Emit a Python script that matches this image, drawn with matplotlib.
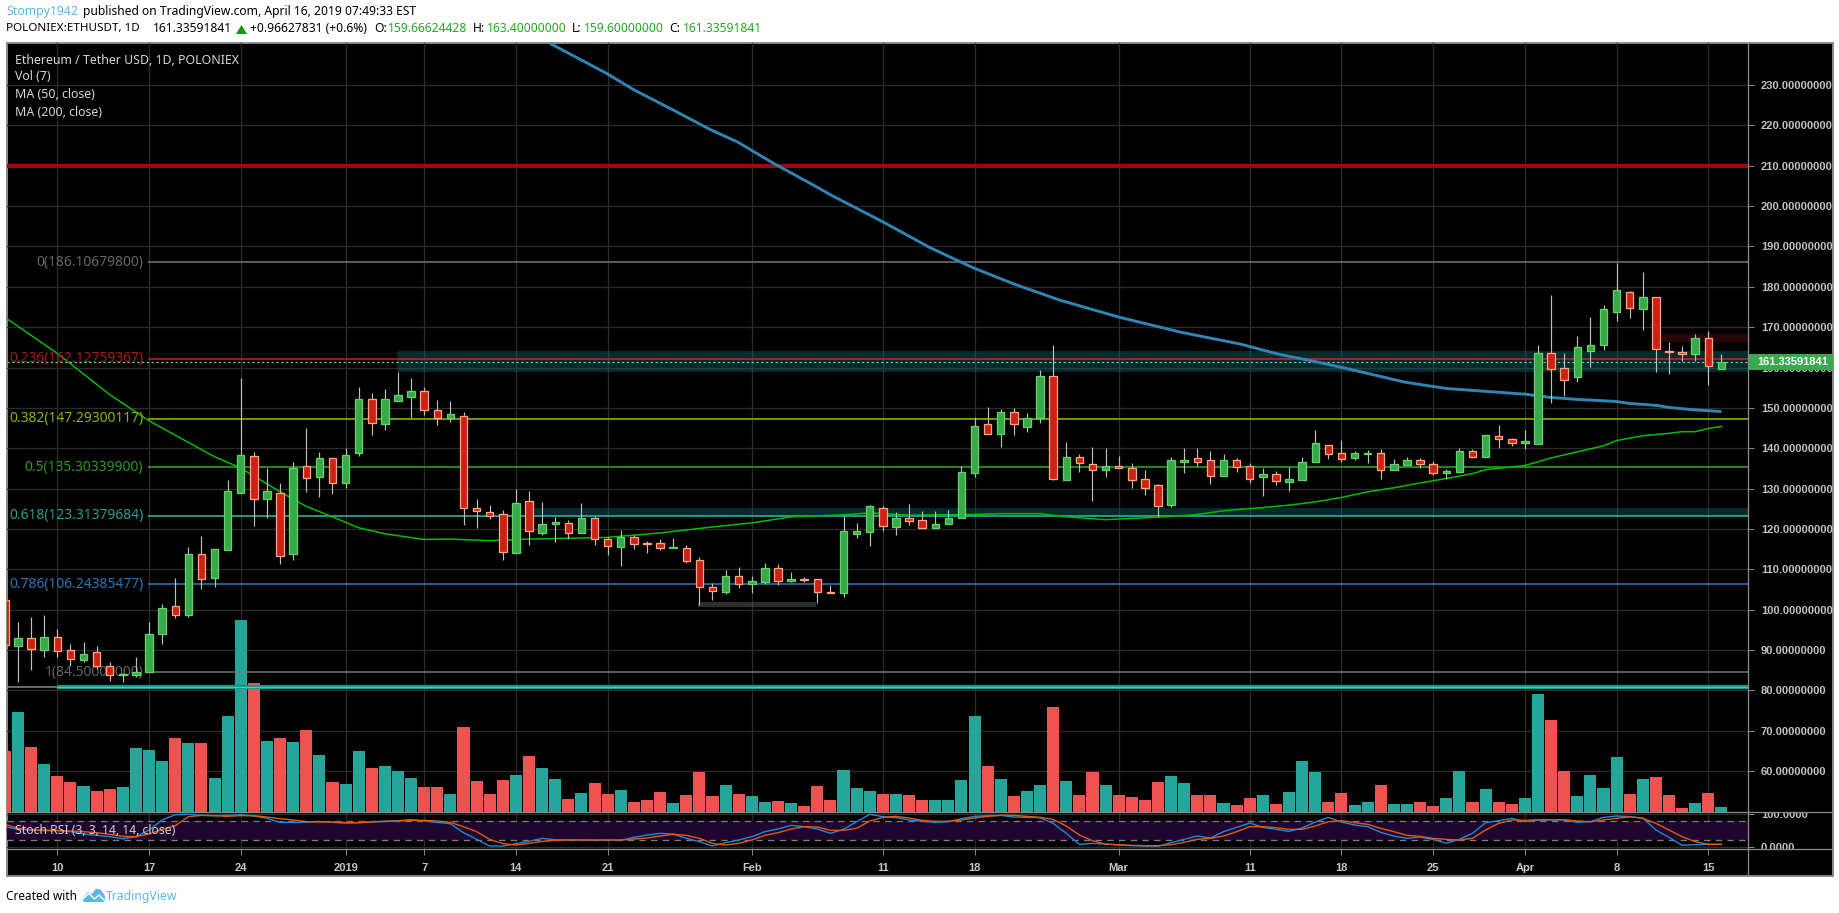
import matplotlib
matplotlib.use("Agg")
import matplotlib.pyplot as plt
import numpy as np
import pandas as pd
from matplotlib.lines import Line2D
from matplotlib.patches import Polygon, Rectangle
from matplotlib.transforms import Bbox

plt.rcParams['font.family'] = ['Noto Sans', 'DejaVu Sans']

W, H = 1840, 913

days = pd.date_range('2018-12-06', '2019-04-16')

opens = [102.5, 91.0, 93.1, 90.1, 93.3, 89.9, 87.5, 89.4, 86.1, 83.7, 83.7, 84.6, 94.1, 100.8, 98.7, 113.7, 107.9, 114.9, 129.0, 138.2,
         127.5, 129.0, 113.8, 135.7, 132.9, 137.5, 131.4, 138.9, 152.1, 146.0, 151.7, 152.7, 154.3, 149.4, 147.4, 148.1, 125.1, 124.3, 123.6, 114.1,
         127.0, 119.1, 121.3, 121.6, 119.1, 122.8, 117.4, 115.6, 118.1, 116.5, 116.4, 115.3, 115.4, 112.4, 105.5, 104.4, 108.4, 106.4, 106.9, 110.4,
         107.1, 107.5, 107.5, 104.5, 104.1, 118.8, 119.3, 125.3, 120.5, 122.6, 122.1, 120.3, 121.3, 122.7, 133.9, 145.9, 143.6, 148.9, 145.3, 147.5,
         157.8, 132.2, 137.9, 136.0, 134.6, 135.7, 135.2, 132.5, 130.8, 126.0, 136.6, 137.7, 137.0, 133.2, 137.2, 135.5, 132.9, 133.7, 131.7, 132.2,
         136.6, 140.9, 138.9, 137.6, 138.6, 138.9, 134.7, 135.9, 137.2, 136.0, 133.9, 134.2, 139.2, 137.9, 143.1, 142.2, 141.3, 141.1, 163.7, 159.8,
         157.7, 164.1, 165.6, 173.8, 178.6, 174.6, 177.4, 164.2, 163.8, 163.4, 167.4, 159.66624428]
highs = [103.0, 96.9, 98.1, 98.6, 95.1, 91.6, 91.9, 90.9, 87.0, 84.3, 88.2, 96.9, 101.3, 107.8, 115.6, 118.2, 115.1, 132.1, 157.4, 139.0,
         135.2, 131.3, 136.5, 145.0, 139.0, 137.7, 140.0, 155.1, 153.6, 154.6, 158.9, 157.4, 155.1, 151.9, 151.7, 149.1, 127.4, 125.9, 124.6, 129.8,
         129.4, 126.6, 122.9, 122.2, 126.4, 123.2, 117.9, 119.7, 118.6, 117.0, 117.5, 117.7, 116.0, 113.0, 106.5, 109.8, 110.5, 108.3, 111.5, 111.3,
         109.3, 108.1, 107.7, 106.2, 123.2, 121.4, 125.9, 125.6, 124.1, 126.1, 124.4, 124.4, 124.6, 135.5, 147.7, 150.2, 149.7, 149.9, 148.7, 159.4,
         165.5, 141.5, 138.5, 140.3, 140.0, 138.0, 136.3, 134.6, 131.1, 137.8, 140.0, 140.0, 139.3, 138.5, 137.5, 136.3, 135.2, 134.3, 135.3, 137.8,
         144.5, 140.9, 142.0, 139.3, 139.5, 139.9, 137.3, 137.9, 137.5, 136.8, 134.8, 140.0, 139.8, 143.4, 145.7, 142.5, 144.5, 165.5, 177.9, 163.6,
         167.8, 172.5, 175.5, 185.9, 178.9, 183.6, 177.4, 166.3, 165.3, 168.3, 169.0, 163.4]
lows = [90.0, 82.1, 85.0, 88.4, 88.2, 86.0, 87.0, 85.4, 82.3, 82.0, 83.3, 84.5, 91.4, 97.9, 98.2, 105.1, 105.6, 114.9, 129.0, 120.7,
        122.7, 111.3, 112.2, 129.1, 127.9, 128.6, 130.1, 138.0, 143.2, 144.5, 151.7, 147.4, 148.2, 145.7, 146.5, 120.9, 120.2, 122.4, 112.2, 114.1,
        116.0, 118.4, 116.7, 117.6, 119.1, 116.0, 113.5, 110.8, 115.0, 114.1, 114.7, 115.3, 111.6, 101.2, 102.3, 103.9, 105.4, 104.1, 106.3, 106.2,
        106.8, 106.8, 101.7, 104.1, 103.2, 117.7, 115.8, 119.5, 118.4, 121.0, 120.3, 120.3, 121.3, 122.7, 132.9, 143.6, 140.3, 143.2, 144.0, 146.2,
        132.1, 132.2, 134.1, 126.9, 132.8, 135.2, 130.1, 128.4, 123.0, 125.4, 133.8, 135.6, 131.1, 133.2, 134.1, 131.4, 128.2, 130.8, 129.4, 132.2,
        136.6, 137.3, 136.6, 137.0, 136.3, 132.4, 134.7, 135.9, 135.2, 133.3, 132.5, 134.2, 137.6, 137.9, 140.0, 140.5, 139.8, 141.1, 151.2, 152.9,
        156.4, 160.1, 164.3, 171.5, 172.2, 169.3, 158.9, 158.4, 161.6, 161.6, 155.6, 159.6]
closes = [91.2, 93.1, 90.3, 93.3, 89.8, 87.8, 89.1, 86.1, 83.8, 84.0, 84.5, 94.1, 100.3, 98.8, 113.9, 107.7, 115.1, 129.3, 138.4, 127.5,
          129.3, 113.4, 135.0, 132.7, 137.5, 131.4, 138.4, 152.1, 146.3, 152.1, 153.1, 154.3, 149.4, 147.5, 148.4, 125.3, 124.5, 123.3, 114.4, 126.5,
          119.4, 121.3, 121.8, 119.1, 122.8, 117.4, 115.9, 117.9, 116.3, 116.3, 115.3, 115.5, 112.1, 105.5, 104.6, 108.4, 106.4, 107.0, 110.4, 107.1,
          107.7, 107.3, 104.4, 104.2, 119.4, 119.6, 125.6, 120.8, 122.6, 122.0, 120.3, 121.3, 122.8, 134.0, 145.6, 143.6, 148.9, 146.0, 147.4, 158.0,
          132.4, 137.9, 136.4, 134.6, 135.5, 135.2, 132.2, 130.2, 125.7, 137.0, 137.2, 136.7, 133.2, 137.0, 135.4, 132.4, 133.7, 131.9, 132.3, 136.5,
          141.2, 138.6, 137.4, 138.7, 138.9, 134.7, 136.0, 137.2, 136.1, 133.9, 134.3, 139.2, 137.9, 143.4, 142.3, 141.4, 141.7, 163.7, 159.7, 156.9,
          165.0, 165.5, 174.4, 179.1, 174.8, 177.4, 164.5, 163.9, 163.4, 167.2, 160.4, 161.33591841]

# volume has no axis of its own, the pane is scaled to 768 units
volume = [60, 99, 64, 47, 35, 29, 25, 20, 22, 24, 63, 61, 50, 73, 68, 68, 33, 95, 191, 128,
          70, 73, 69, 81, 56, 29, 27, 60, 43, 45, 40, 33, 24, 24, 17, 84, 30, 17, 31, 36,
          55, 43, 32, 12, 18, 28, 17, 21, 9, 11, 19, 8, 16, 39, 15, 26, 17, 15, 9, 10,
          8, 5, 25, 11, 41, 23, 20, 17, 17, 16, 11, 11, 11, 31, 95, 45, 32, 15, 20, 26,
          104, 30, 16, 39, 26, 16, 14, 11, 29, 35, 28, 16, 16, 8, 6, 13, 16, 7, 19, 50,
          39, 9, 18, 6, 9, 26, 7, 7, 9, 5, 13, 40, 9, 22, 9, 7, 13, 117, 91, 40,
          15, 36, 23, 54, 17, 32, 34, 16, 3, 8, 18, 4]

stoch_k = [61.9, 53.7, 51.7, 49.6, 49.6, 46.6, 39.4, 35.4, 31.3, 25.2, 31.3, 51.7, 82.3, 98.6, 99.6, 96.5, 95.5, 96.5, 98.6, 94.5,
           87.3, 75.1, 75.1, 75.1, 78.2, 75.1, 73.1, 74.1, 77.2, 78.2, 80.2, 83.3, 79.2, 75.1, 71.0, 43.5, 23.1, 2.7, 2.7, 9.9,
           17.0, 26.2, 22.1, 21.1, 21.1, 20.0, 21.1, 20.0, 29.2, 36.4, 41.5, 39.4, 26.2, 16.0, 2.7, 12.9, 21.1, 31.3, 46.6, 54.7,
           65.9, 61.9, 54.7, 41.5, 53.7, 77.2, 99.6, 92.4, 89.4, 82.3, 78.2, 75.1, 77.2, 86.3, 93.5, 95.5, 96.5, 91.4, 90.4, 89.4,
           72.0, 41.5, 7.8, 10.9, 8.8, 5.8, 3.8, 2.7, 1.7, 12.9, 23.1, 33.3, 27.2, 46.6, 59.8, 73.1, 59.8, 53.7, 47.6, 57.8,
           76.1, 90.4, 76.1, 67.0, 61.9, 44.5, 33.3, 26.2, 30.3, 23.1, 10.9, 23.1, 41.5, 74.1, 80.2, 87.4, 77.2, 82.3, 82.3, 82.3,
           75.1, 77.2, 90.4, 94.5, 92.4, 88.4, 51.7, 29.2, 4.8, 6.8, 7.8, 7.8]
stoch_d = [69.0, 56.8, 51.7, 51.7, 50.6, 48.6, 46.6, 43.5, 38.4, 32.3, 31.3, 39.4, 53.7, 64.9, 92.4, 96.5, 95.5, 93.5, 95.5, 95.5,
           91.4, 86.3, 82.3, 77.2, 76.1, 76.1, 74.1, 74.1, 76.1, 78.2, 79.2, 81.2, 81.2, 79.2, 75.1, 61.9, 46.6, 23.1, 9.9, 5.8,
           10.9, 17.0, 20.0, 21.1, 21.1, 21.1, 21.1, 21.1, 24.1, 27.2, 33.3, 38.4, 35.4, 26.2, 10.9, 5.8, 10.9, 21.1, 35.4, 43.5,
           54.7, 61.9, 60.8, 50.6, 50.6, 56.8, 79.2, 90.4, 93.5, 88.4, 81.2, 78.2, 78.2, 82.3, 88.4, 93.5, 96.5, 96.5, 93.5, 90.4,
           84.3, 63.9, 36.4, 19.1, 8.8, 6.8, 4.8, 3.8, 3.8, 6.8, 14.0, 23.1, 26.2, 33.3, 46.6, 61.9, 61.9, 58.8, 53.7, 53.7,
           63.9, 77.2, 80.2, 74.1, 69.0, 56.8, 46.6, 35.4, 32.3, 26.2, 23.1, 21.1, 26.2, 51.7, 72.1, 82.3, 81.2, 83.3, 83.3, 83.3,
           79.2, 77.2, 82.3, 87.4, 92.4, 87.4, 72.1, 51.7, 31.3, 16.0, 7.8, 7.8]

ma50_days = [0.2, 4, 8, 11, 16, 18, 21, 23, 25, 27, 29, 32, 34, 37, 40, 43, 46, 47, 50, 54, 57, 60, 64, 66, 69, 74, 76, 79, 81, 84,
             86, 89, 91, 93, 94, 96, 98, 100, 102, 104, 106, 108, 110, 112, 113, 116, 118, 120, 122, 123, 125, 127, 128, 129, 130, 131]
ma50 = [172.0, 163.5, 153.3, 146.8, 137.9, 135.1, 129.2, 125.6, 123.0, 120.3, 118.8, 117.4, 117.5, 117.1, 117.5, 117.7, 117.9, 118.2, 119.0, 120.5,
        121.5, 123.0, 123.5, 124.0, 123.4, 123.6, 123.8, 123.8, 123.0, 122.3, 122.6, 123.1, 123.6, 124.5, 124.8, 125.3, 125.9, 126.7, 127.8, 129.2,
        130.2, 131.4, 132.5, 133.7, 134.7, 135.7, 137.6, 139.1, 140.6, 141.9, 143.1, 143.7, 144.1, 144.1, 144.9, 145.4]
ma200_days = [41.6, 45.9, 48, 51, 53.8, 55.9, 58.6, 61.7, 63, 67, 70.6, 73.9, 77, 80.5, 85, 89.8, 94.3, 97.2, 100.1, 103, 106.8, 110, 113, 116,
              117.9, 120, 122.9, 124, 126.1, 127, 129, 131]
ma200 = [240.3, 232.9, 228.8, 223.8, 219.0, 215.9, 210.7, 205.2, 202.8, 196.1, 189.7, 184.7, 180.7, 176.7, 172.5, 168.7, 165.8, 163.3, 161.4, 159.3,
         156.4, 154.8, 154.1, 153.4, 152.6, 152.1, 151.6, 151.1, 150.6, 150.1, 149.5, 149.1]

fib_levels = [186.10679800, 162.12759367, 147.29300117, 135.30339900, 123.31379684, 106.24385477, 84.50000000]
fib_ratios = ['0', '0.236', '0.382', '0.5', '0.618', '0.786', '1']
fib_colors = ['#7a7a7a', '#d42020', '#8fc800', '#2fb01e', '#35bfb0', '#2080c8', '#7a7a7a']
fib_text_colors = ['#666666', '#a51c1c', '#86b60a', '#2b9a1c', '#2a9d90', '#2478b8', '#666666']

price_ticks = list(range(60, 231, 10))
date_ticks = ['2018-12-10', '2018-12-17', '2018-12-24', '2019-01-01', '2019-01-07', '2019-01-14', '2019-01-21', '2019-02-01', '2019-02-11',
              '2019-02-18', '2019-03-01', '2019-03-11', '2019-03-18', '2019-03-25', '2019-04-01', '2019-04-08', '2019-04-15']
date_labels = ['10', '17', '24', '2019', '7', '14', '21', 'Feb', '11', '18', 'Mar', '11', '18', '25', 'Apr', '8', '15']

GRID = '#2b2b2b'
AXIS = '#8a8a8a'
PX = 0.72
UP, UP_EDGE = '#38a84a', '#62d365'
DOWN, DOWN_EDGE = '#cc2018', '#ffa67a'
LEFT, SCALE, RIGHT = 7, 1748.3, 1833
XLIM = (0.16, 133.05)
XEND = XLIM[1]
PANE_W = SCALE - LEFT
SCALE_FONT = ['Liberation Sans', 'DejaVu Sans']


def rect(x0, y0, x1, y1):
    # pixel box (from the top left) to a figure fraction box
    return [x0 / W, 1 - y1 / H, (x1 - x0) / W, (y1 - y0) / H]


def label(x, y, s, color='black', **kw):
    kw.setdefault('fontsize', 8.7)
    return fig.text(x / W, 1 - y / H, s, color=color, va='center', **kw)


def fig_line(x0, y0, x1, y1, color=AXIS):
    fig.add_artist(Line2D([x0 / W, x1 / W], [1 - y0 / H, 1 - y1 / H], color=color, lw=PX * 1.3, zorder=20))


fig = plt.figure(figsize=(W / 100, H / 100), dpi=100, facecolor='white')

frame = fig.add_axes(rect(LEFT, 43, RIGHT, 876), facecolor='black')
frame.set_xticks([])
frame.set_yticks([])
for s in frame.spines.values():
    s.set_color(AXIS)
    s.set_linewidth(1.4)

x = np.arange(len(days))
tick_pos = [days.get_loc(pd.Timestamp(d)) for d in date_ticks]
o, h, l, c = map(np.array, (opens, highs, lows, closes))
up = c >= o

# grid layer, carries the price scale
ax_grid = fig.add_axes(rect(LEFT, 43, SCALE, 811.5), facecolor='none', zorder=1)
ax_grid.set_xlim(*XLIM)
ax_grid.set_ylim(50.0, 240.4)
ax_grid.set_xticks(tick_pos)
ax_grid.set_xticklabels([])
ax_grid.yaxis.tick_right()
ax_grid.set_yticks(price_ticks)
ax_grid.set_yticklabels(['%.8f' % p for p in price_ticks], color='#c2c2c2', fontsize=8, fontweight='bold', family=SCALE_FONT)
ax_grid.tick_params(axis='y', length=4, width=PX, color=AXIS, pad=5)
ax_grid.tick_params(axis='x', length=0)
ax_grid.grid(True, color=GRID, lw=PX * 1.3)
for s in ax_grid.spines.values():
    s.set_visible(False)

# volume bars sit on the pane floor, under the price layer
ax_vol = fig.add_axes(ax_grid.get_position(), facecolor='none', zorder=2)
ax_vol.set_xlim(*XLIM)
ax_vol.set_ylim(0, 768)
ax_vol.bar(x, volume, width=0.92, color=np.where(up, '#26a69a', '#ef5350'))
ax_vol.axis('off')

ax = fig.add_axes(ax_grid.get_position(), facecolor='none', zorder=3)
ax.set_xlim(*XLIM)
ax.set_ylim(50.0, 240.4)
ax.axis('off')

# drawn zones
ax.fill_between([29.9, XEND], 159.0, 164.1, color='#0e6a70', alpha=0.4, lw=0)
ax.fill_between([40.2, XEND], 123.3, 125.1, color='#0e6a70', alpha=0.4, lw=0)
ax.fill_between([126.4, XEND], 166.2, 168.2, color='#6a0e0e', alpha=0.4, lw=0)
ax.fill_between([52.9, 61.9], 100.7, 101.8, color='#5a5a5a', alpha=0.5, lw=0)

# fib retracement
for lev, ratio, col, tcol in zip(fib_levels, fib_ratios, fib_colors, fib_text_colors):
    ax.hlines(lev, 10.9, XEND, color=col, lw=PX * 1.5)
    ax.annotate('%s(%.8f)' % (ratio, lev), (10.9, lev), xytext=(-3.2, 0), textcoords='offset points', ha='right', va='center', color=tcol, fontsize=10)

ax.hlines(210, XLIM[0], XEND, color='#9c0c0c', lw=2.8)
ax.hlines(80.9, XLIM[0], 3.95, color='#8a8a8a', lw=PX * 1.5)
ax.hlines(80.9, 3.95, XEND, color='#14948a', lw=3.0)
ax.hlines(80.9, 3.95, XEND, color='#38d0c2', lw=1.0)
ax.hlines(c[-1], XLIM[0], XEND, color='#5fd39a', lw=PX * 1.2, linestyles=(0, (2, 2)))

ax.plot(ma200_days, ma200, color='#2f86b5', lw=2.1, solid_capstyle='butt')
ax.plot(ma50_days, ma50, color='#00bc00', lw=1.1)

# candles
ax.vlines(x, l, h, color='#bcbcbc', lw=PX * 1.2, zorder=4)
ax.bar(x, np.maximum(np.abs(c - o), 0.1), bottom=np.minimum(o, c), width=0.57,
       color=np.where(up, UP, DOWN), edgecolor=np.where(up, UP_EDGE, DOWN_EDGE), lw=PX * 1.3, zorder=5)

# last price tag
trans = ax.get_yaxis_transform()
ax.add_patch(Rectangle((1, c[-1] - 1.98), (RIGHT - SCALE) / PANE_W, 3.96, transform=trans, clip_on=False, color='#3aa94c', lw=0, zorder=10))
ax.text(1 + 8.7 / PANE_W, c[-1], '%.8f' % c[-1], transform=trans, color='white', fontsize=8, fontweight='bold', va='center', zorder=11, family=SCALE_FONT)

# stoch rsi pane
ax_st = fig.add_axes(rect(LEFT, 811.5, SCALE, 849.3), facecolor='none', zorder=3)
ax_st.set_xlim(*XLIM)
ax_st.set_ylim(-7.3, 108.3)
ax_st.axhspan(20, 80, color='#20052f', lw=0)
ax_st.axhline(80, color='#7d7a80', lw=PX * 1.3, ls=(0, (5, 4)))
ax_st.axhline(20, color='#7d7a80', lw=PX * 1.3, ls=(0, (5, 4)))
ax_st.set_xticks(tick_pos)
ax_st.set_xticklabels(date_labels, color='#c8c8c8', fontsize=8, fontweight='bold', family=SCALE_FONT)
ax_st.tick_params(axis='x', length=4, width=PX, color=AXIS, pad=6)
ax_st.yaxis.tick_right()
ax_st.set_yticks([0, 100])
ax_st.set_yticklabels(['0.0000', '100.0000'], color='#c2c2c2', fontsize=8, fontweight='bold', family=SCALE_FONT)
ax_st.tick_params(axis='y', length=4, width=PX, color=AXIS, pad=5)
# scale labels get cut at the pane edges
pane_box = Bbox([[SCALE, H - 849.3], [RIGHT, H - 811.5]])
for t in ax_st.get_yticklabels():
    t.set_clip_on(True)
    t.set_clip_box(pane_box)
ax_st.grid(True, color=GRID, lw=PX * 1.3)
ax_st.set_axisbelow(True)
for s in ax_st.spines.values():
    s.set_visible(False)
ax_st.plot(x, stoch_k, color='#1e88d8', lw=PX * 1.4)
ax_st.plot(x, stoch_d, color='#e2580f', lw=PX * 1.4)
ax_st.text(8 / PANE_W, 0.5, 'Stoch RSI (3, 3, 14, 14, close)', transform=ax_st.transAxes, color='#d0d0d0', fontsize=8.8, va='center')

# pane separators and the scale line
fig_line(LEFT, 811.5, RIGHT, 811.5)
fig_line(LEFT, 849.3, RIGHT, 849.3)
fig_line(SCALE, 43, SCALE, 876)

# chart legend
for yy, s in zip([60, 77, 95, 112], ['Ethereum / Tether USD, 1D, POLONIEX', 'Vol (7)', 'MA (50, close)', 'MA (200, close)']):
    label(15, yy, s, color='#d6d6d6', fontsize=8.9, zorder=30)

# header
BLUE = '#59b7e8'
GREEN = '#22a822'
label(6, 12, 'Stompy1942', color=BLUE, fontsize=8.9)
label(83, 12, 'published on TradingView.com, April 16, 2019 07:49:33 EST', fontsize=8.7)
label(6, 29, 'POLONIEX:ETHUSDT, 1D', fontweight='bold', fontsize=8.4)
label(152.5, 29, '161.33591841')
fig.add_artist(Polygon([(236 / W, 1 - 34 / H), (241.5 / W, 1 - 25 / H), (247 / W, 1 - 34 / H)], closed=True, color='#0f9a12', lw=0, transform=fig.transFigure))
label(250, 29, '+0.96627831 (+0.6%)')
for lx, s, vx, v in [(374, 'O:', 388, '159.66624428'), (473, 'H:', 487, '163.40000000'),
                     (572, 'L:', 584, '159.60000000'), (669, 'C:', 683, '161.33591841')]:
    label(lx, 29, s, fontweight='bold')
    label(vx, 29, v, color=GREEN)

# footer
label(6.5, 896, 'Created with', fontsize=8.5)
label(106, 896, 'TradingView', color=BLUE, fontsize=8.8)
cloud = [(82, 899), (88, 892), (92, 894), (96, 888.5), (101, 890), (105, 896), (105, 902), (84, 902)]
fig.add_artist(Polygon([(a / W, 1 - b / H) for a, b in cloud], closed=True, color=BLUE, lw=0, transform=fig.transFigure))
zigzag = [(82, 899.5), (89, 893.5), (94.5, 899), (99, 895), (105, 901)]
fig.add_artist(Line2D([a / W for a, b in zigzag], [1 - b / H for a, b in zigzag], color='white', lw=1.0))

fig.savefig('out.png', dpi=100, facecolor='white')
